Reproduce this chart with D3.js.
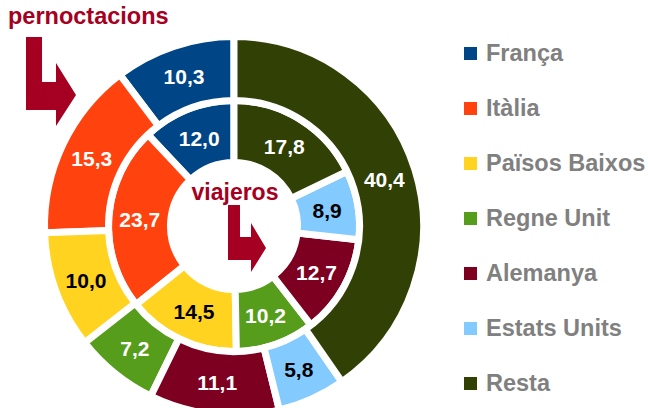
<!DOCTYPE html>
<html>
<head>
<meta charset="utf-8">
<script src="https://cdn.jsdelivr.net/npm/d3@7"></script>
<style>
  body { margin: 0; background: #fff; }
  svg { display: block; font-family: "Liberation Sans", Arial, sans-serif; font-weight: bold; }
</style>
</head>
<body>
<div id="chart"></div>
<script>
const categories = ["França", "Itàlia", "Països Baixos", "Regne Unit", "Alemanya", "Estats Units", "Resta"];
const viajeros = [12.0, 23.7, 14.5, 10.2, 12.7, 8.9, 17.8];
const pernoctacions = [10.3, 15.3, 10.0, 7.2, 11.1, 5.8, 40.4];
const colors = ["#004586", "#ff420e", "#ffd320", "#579d1c", "#7e0021", "#83caff", "#314004"];
const labelColors = ["#fff", "#fff", "#000", "#fff", "#fff", "#000", "#fff"];

function buildDonut() {
  const width = 648;
  const height = 408;
  const cx = 234, cy = 226;
  const red = "#a50021";

  const svg = d3.select("#chart")
    .append("svg")
    .attr("width", width)
    .attr("height", height);

  // counterclockwise from 12 o'clock
  const pie = d3.pie().sort(null).startAngle(0).endAngle(-2 * Math.PI);
  const fmt = (v) => v.toFixed(1).replace(".", ",");

  const rings = [
    { values: viajeros, inner: 63.5, outer: 125.5 },
    { values: pernoctacions, inner: 125.5, outer: 189.5 }
  ];

  const g = svg.append("g").attr("transform", `translate(${cx},${cy})`);

  rings.forEach((ring) => {
    const arc = d3.arc().innerRadius(ring.inner).outerRadius(ring.outer);
    const slices = pie(ring.values);

    g.append("g").selectAll("path")
      .data(slices)
      .enter()
      .append("path")
      .attr("d", arc)
      .attr("fill", (d, i) => colors[i])
      .attr("stroke", "#fff")
      .attr("stroke-width", 7);

    g.append("g").selectAll("text")
      .data(slices)
      .enter()
      .append("text")
      .attr("transform", (d) => `translate(${arc.centroid(d)})`)
      .attr("text-anchor", "middle")
      .attr("dy", "0.36em")
      .attr("font-size", 21)
      .attr("fill", (d, i) => labelColors[i])
      .text((d) => fmt(d.data));
  });

  // titles and arrows
  svg.append("text")
    .attr("x", 8).attr("y", 24)
    .attr("font-size", 23.5)
    .attr("fill", red)
    .text("pernoctacions");

  svg.append("polygon")
    .attr("points", "26,37 42,37 42,82 56,82 56,63 76,95 56,126 56,110 26,110")
    .attr("fill", red);

  svg.append("text")
    .attr("x", 235).attr("y", 200)
    .attr("text-anchor", "middle")
    .attr("font-size", 23)
    .attr("fill", red)
    .text("viajeros");

  svg.append("polygon")
    .attr("points", "228,205 240,205 240,237 251,237 251,223 266,248 251,272 251,260 228,260")
    .attr("fill", red);

  // legend
  const legend = svg.append("g").selectAll("g")
    .data(categories)
    .enter()
    .append("g")
    .attr("transform", (d, i) => `translate(464, ${47 + i * 55})`);

  legend.append("rect")
    .attr("width", 13)
    .attr("height", 13)
    .attr("fill", (d, i) => colors[i]);

  legend.append("text")
    .attr("x", 22)
    .attr("y", 14)
    .attr("font-size", 23.5)
    .attr("fill", "#808080")
    .text((d) => d);
}

window.onload = buildDonut;
</script>
</body>
</html>
